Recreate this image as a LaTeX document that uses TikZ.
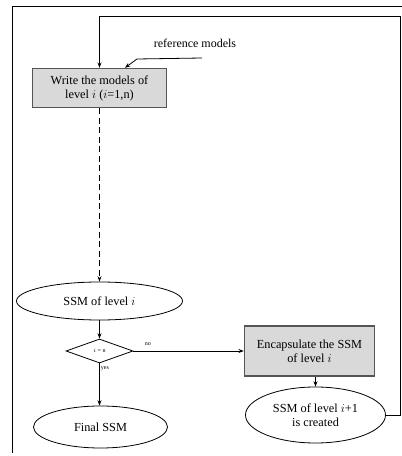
\documentclass[tikz,border=0pt]{standalone}
\usepackage{fontspec}
\setmainfont{Liberation Serif}
\usepackage{tikz}
\usetikzlibrary{shapes.geometric}
\usetikzlibrary{arrows,arrows.meta}
\definecolor{boxgray}{HTML}{D9D9D9}
\definecolor{edgegray}{HTML}{555555}

\begin{document}
\begin{tikzpicture}[x=1pt,y=1pt,node distance=50pt,
	stepbox/.style={rectangle,draw=edgegray,line width=1.4pt,fill=boxgray,align=center,inner sep=0pt,font=\fontsize{12.3}{14}\selectfont},
	stateell/.style={ellipse,draw,line width=0.8pt,align=center,inner sep=0pt,font=\fontsize{12.3}{14}\selectfont},
	tinylab/.style={font=\fontsize{6}{7}\selectfont,inner sep=1pt}]
	\useasboundingbox (0,0) rectangle (402,456);
	%外框
	\draw[line width=0.8pt] (12,3) -- (12,450) -- (402,450);
	%定义流程图具体形状
	\node (W) [stepbox,minimum width=134pt,minimum height=39pt] at (99.5,368) {Write the models of\\level $i$ ($i$=1,n)};
	\node (S1) [stateell,below of=W,node distance=213pt,minimum width=166pt,minimum height=38pt] {SSM of level $i$};
	\node (D) [diamond,draw,line width=0.8pt,below of=S1,node distance=50pt,minimum width=67pt,minimum height=24pt,inner sep=0pt,tinylab] {$i$ = n};
	\node (F) [stateell,below of=D,node distance=76pt,xshift=1pt,minimum width=134pt,minimum height=42pt] {Final SSM};
	\node (E) [stepbox,right of=D,node distance=210pt,minimum width=130pt,minimum height=50pt] {Encapsulate the SSM\\of level $i$};
	\node (S2) [stateell,below of=E,node distance=64pt,xshift=6pt,minimum width=140pt,minimum height=56pt] {SSM of level $i$+1\\is created};
	\node (R) [font=\fontsize{12}{14}\selectfont] at (195,413) {reference models};
	\coordinate (Rin) at (202,398);
	\coordinate (Rbend) at (137,397);
	\coordinate (FB) at (400,440);
	
	%连接具体形状
	\draw[line width=0.8pt,arrows={-Stealth[scale=0.8]}](Rin) -- (Rbend) -- ([xshift=25.5pt]W.north);
	\draw[line width=0.8pt,dash pattern=on 6pt off 3.5pt,arrows={-Stealth[scale=0.8]}](W) -- (S1);
	\draw[line width=0.8pt,arrows={-Stealth[scale=0.8]}](S1) -- (D);
	\draw[line width=0.8pt,arrows={-Stealth[scale=0.8]}](D.south) -- (D.south |- F.north) node[pos=0.12,right,tinylab]{yes};
	\draw[line width=0.8pt,arrows={-Stealth[scale=0.8]}](D) -- (E) node[pos=0.13,above=4pt,tinylab]{no};
	\draw[line width=0.8pt,arrows={-Stealth[scale=0.8]}](E.south -| S2.north) -- (S2);
	\draw[line width=0.8pt,arrows={-Stealth[scale=0.8]}](S2.east) -| (FB) -| (W.north);
\end{tikzpicture}
\end{document}
